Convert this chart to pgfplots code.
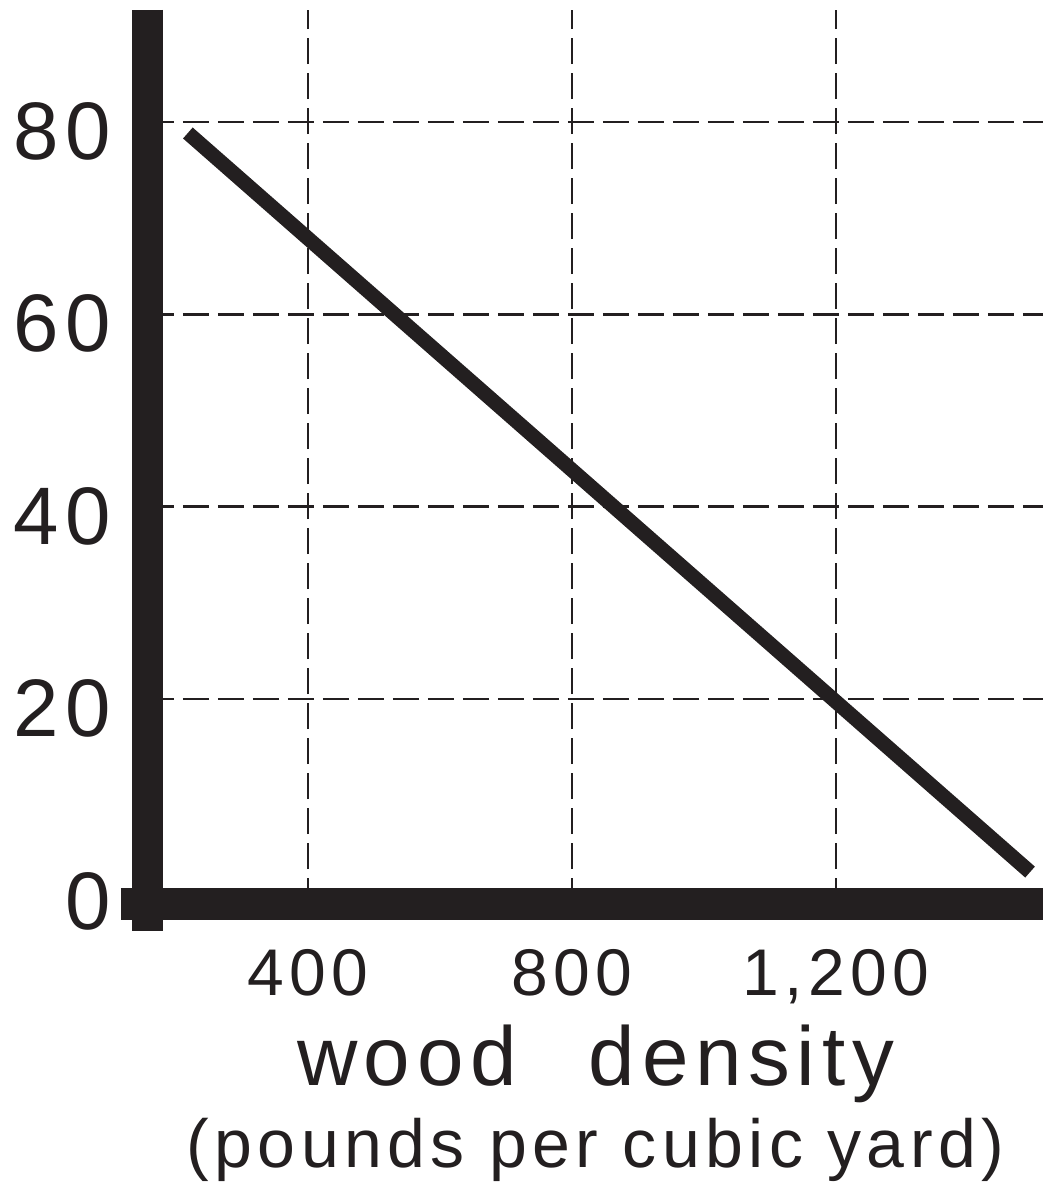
\documentclass[border=0pt]{standalone}
\usepackage{pgfplots}
\pgfplotsset{compat=1.18}
\usepackage{fontspec}
\setmainfont{Liberation Sans}[LetterSpace=8]
\definecolor{ink}{HTML}{231F20}
\begin{document}
\begin{tikzpicture}
\useasboundingbox (0,0) rectangle (261.75pt,295.5pt);
\begin{axis}[
  at={(37pt,69.5pt)}, anchor=south west,
  scale only axis, width=223.75pt, height=223.5pt,
  xmin=157.6, xmax=1513.6, ymin=-1.32, ymax=91.64,
  axis line style={draw=none},
  major tick length=0pt,
  xtick={400,800,1200}, xticklabels={400,800,{1,200}},
  ytick={0,20,40,60,80}, yticklabels={0,20,40,60,80},
  grid=major,
  major grid style={color=ink, line width=0.7pt, dash pattern=on 6.6pt off 2.15pt},
  xticklabel style={anchor=north, inner sep=0pt, yshift=-11.25pt, font=\fontsize{16.5}{20}\selectfont, text=ink},
  yticklabel style={anchor=east, inner sep=0pt, xshift=-9pt, yshift=-2.4pt, font=\fontsize{20.4}{24}\selectfont, text=ink},
  clip=false,
]
\addplot[color=ink, line width=3.65pt] coordinates {(218,78.85) (1494,2.0)};
\draw[ink, line width=7.75pt, shorten >=-6.75pt] (rel axis cs:0,1) -- (rel axis cs:0,0);
\draw[ink, line width=8pt, shorten <=-6.75pt] (rel axis cs:0,0) -- (rel axis cs:1,0);
\node[anchor=base, inner sep=0pt, font=\fontsize{20.9}{24}\selectfont, text=ink, yshift=-45.25pt] at (rel axis cs:0.5,0) {wood\hspace{18pt}density};
\node[anchor=base, inner sep=0pt, font=\fontsize{17}{20}\selectfont, text=ink, yshift=-65.75pt] at (rel axis cs:0.5,0) {(pounds per cubic yard)};
\end{axis}
\end{tikzpicture}
\end{document}
